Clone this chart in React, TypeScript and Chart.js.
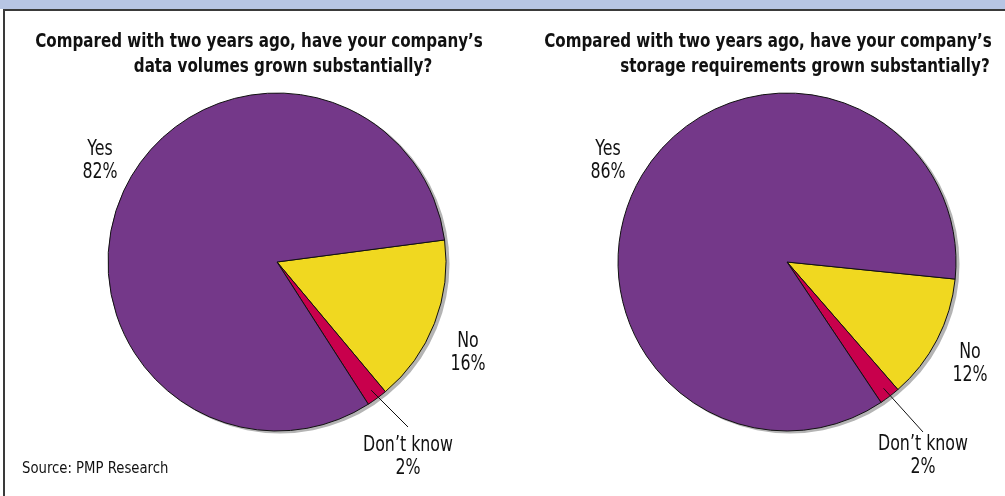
import React, { useEffect, useRef } from "react";
import { Chart, registerables } from "chart.js";

Chart.register(...registerables);

// Survey answers, in drawing order starting at the "No" slice
const answerLabels = ["No", "Don’t know", "Yes"];
const dataVolumeShares = [16, 2, 82];
const storageShares = [12, 2, 86];

const titleLeft = ["Compared with two years ago, have your company’s", "data volumes grown substantially?"];
const titleRight = ["Compared with two years ago, have your company’s", "storage requirements grown substantially?"];
const sourceNote = "Source: PMP Research";

const SLICE_COLORS = ["#f0d820", "#c8004c", "#743889"];
const FONT_FAMILY = "'Liberation Sans Narrow', 'DejaVu Sans Condensed', 'Arial Narrow', sans-serif";

// horizontal squeeze so the condensed face reads like a narrow grotesque
const TITLE_SQUEEZE = 0.885;
const LABEL_SQUEEZE = 0.8;
const SOURCE_SQUEEZE = 0.92;

type PieSpec = {
  values: number[];
  rotation: number;
  titleLines: string[];
  titleCenters: number[]; // x centres of each title line (canvas-local)
  labelOffsets: { dx: number; dy: number }[]; // first-line baseline relative to pie centre
  leaderEnd: { dx: number; dy: number };
  showSource: boolean;
  padding: { left: number; right: number; top: number; bottom: number };
};

function squeezedText(ctx: CanvasRenderingContext2D, text: string, x: number, y: number, sx: number) {
  ctx.save();
  ctx.translate(x, y);
  ctx.scale(sx, 1);
  ctx.fillText(text, 0, 0);
  ctx.restore();
}

function makePlugin(spec: PieSpec) {
  return {
    id: "pieDecor",
    beforeDatasetsDraw(chart: any) {
      const arc = chart.getDatasetMeta(0).data[0];
      if (!arc) return;
      const { x, y, outerRadius } = arc.getProps(["x", "y", "outerRadius"], true);
      const ctx = chart.ctx;
      ctx.save();
      ctx.fillStyle = "#b4b4b4";
      ctx.beginPath();
      ctx.arc(x + 3, y + 2, outerRadius + 0.5, 0, Math.PI * 2);
      ctx.fill();
      ctx.restore();
    },
    afterDraw(chart: any) {
      const ctx = chart.ctx;
      const meta = chart.getDatasetMeta(0);
      const first = meta.data[0];
      const { x: cx, y: cy, outerRadius } = first.getProps(["x", "y", "outerRadius"], true);
      ctx.save();
      ctx.fillStyle = "#111";
      ctx.textAlign = "center";
      ctx.textBaseline = "alphabetic";

      // title
      ctx.font = `bold 19px ${FONT_FAMILY}`;
      spec.titleLines.forEach((line, i) => {
        squeezedText(ctx, line, spec.titleCenters[i], 47 + i * 25, TITLE_SQUEEZE);
      });

      // slice labels
      ctx.font = `22px ${FONT_FAMILY}`;
      const total = spec.values.reduce((a, b) => a + b, 0);
      meta.data.forEach((el: any, i: number) => {
        const pct = Math.round((spec.values[i] / total) * 100) + "%";
        const off = spec.labelOffsets[i];
        const lx = cx + off.dx;
        const ly = cy + off.dy;
        squeezedText(ctx, answerLabels[i], lx, ly, LABEL_SQUEEZE);
        squeezedText(ctx, pct, lx, ly + 23, LABEL_SQUEEZE);
        if (i === 1) {
          const { startAngle, endAngle } = el.getProps(["startAngle", "endAngle"], true);
          const mid = (startAngle + endAngle) / 2;
          const sx = cx + Math.cos(mid) * (outerRadius - 10);
          const sy = cy + Math.sin(mid) * (outerRadius - 10);
          ctx.strokeStyle = "#111";
          ctx.lineWidth = 1;
          ctx.beginPath();
          ctx.moveTo(sx, sy);
          ctx.lineTo(cx + spec.leaderEnd.dx, cy + spec.leaderEnd.dy);
          ctx.stroke();
        }
      });

      if (spec.showSource) {
        ctx.textAlign = "left";
        ctx.font = `16px ${FONT_FAMILY}`;
        squeezedText(ctx, sourceNote, 22, 473, SOURCE_SQUEEZE);
      }
      ctx.restore();
    },
  };
}

function PieChart({ spec, left, width }: { spec: PieSpec; left: number; width: number }) {
  const ref = useRef<HTMLCanvasElement>(null);
  useEffect(() => {
    if (!ref.current) return;
    const chart = new Chart(ref.current, {
      type: "pie",
      data: {
        labels: answerLabels,
        datasets: [
          {
            data: spec.values,
            backgroundColor: SLICE_COLORS,
            borderColor: "#111",
            borderWidth: 1,
          },
        ],
      },
      options: {
        animation: false,
        responsive: false,
        rotation: spec.rotation,
        radius: 169,
        layout: { padding: spec.padding },
        plugins: {
          legend: { display: false },
          tooltip: { enabled: false },
          title: { display: false },
        },
      },
      plugins: [makePlugin(spec)],
    });
    return () => chart.destroy();
  }, []);
  return (
    <canvas
      ref={ref}
      width={width}
      height={496}
      style={{ position: "absolute", left, top: 0, width, height: 496 }}
    />
  );
}

const leftSpec: PieSpec = {
  values: dataVolumeShares,
  rotation: 82.5,
  titleLines: titleLeft,
  titleCenters: [259, 283],
  labelOffsets: [
    { dx: 191, dy: 85 },
    { dx: 131, dy: 189 },
    { dx: -177, dy: -107 },
  ],
  leaderEnd: { dx: 131, dy: 165 },
  showSource: true,
  padding: { left: 108, right: 59, top: 93, bottom: 65 },
};

const rightSpec: PieSpec = {
  values: storageShares,
  rotation: 95.8,
  titleLines: titleRight,
  titleCenters: [768 - 505, 805 - 505],
  labelOffsets: [
    { dx: 183, dy: 96 },
    { dx: 136, dy: 188 },
    { dx: -179, dy: -107 },
  ],
  leaderEnd: { dx: 136, dy: 170 },
  showSource: false,
  padding: { left: 113, right: 49, top: 93, bottom: 65 },
};

export default function App() {
  return (
    <div
      style={{
        position: "fixed",
        left: 0,
        top: 0,
        width: 1005,
        height: 496,
        background: "#ffffff",
        overflow: "hidden",
      }}
    >
      <div style={{ position: "absolute", left: 0, top: 0, width: 1005, height: 9, background: "#b7c5e4" }} />
      <div style={{ position: "absolute", left: 3, top: 9, width: 1002, height: 2, background: "#3a3a3a" }} />
      <div style={{ position: "absolute", left: 3, top: 9, width: 2, height: 487, background: "#3a3a3a" }} />
      <PieChart spec={leftSpec} left={0} width={505} />
      <PieChart spec={rightSpec} left={505} width={500} />
    </div>
  );
}
